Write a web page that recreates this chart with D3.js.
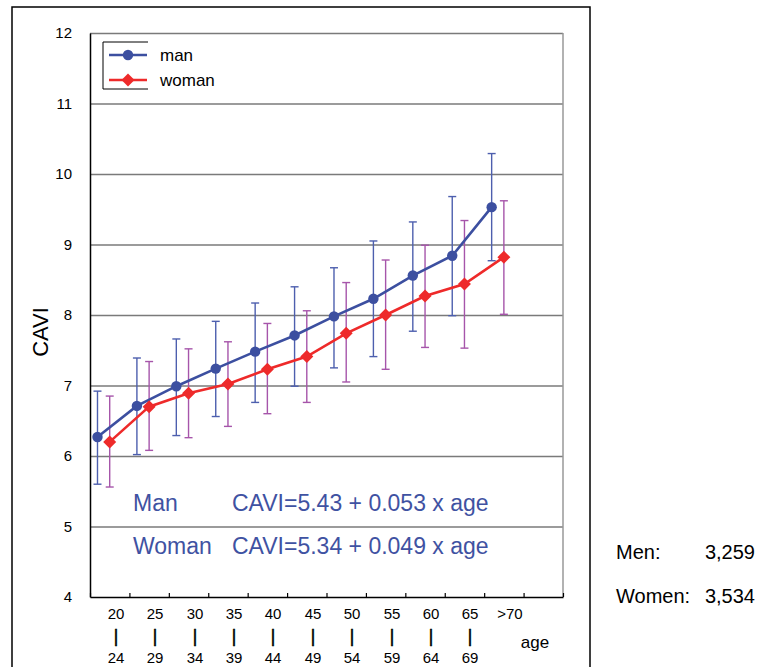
<!DOCTYPE html>
<html>
<head>
<meta charset="utf-8">
<script src="https://cdn.jsdelivr.net/npm/d3@7"></script>
<style>
  body { margin: 0; background: #fff; }
  svg { display: block; font-family: "Liberation Sans", Arial, sans-serif; }
</style>
</head>
<body>
<svg id="chart" width="758" height="667"></svg>
<script>
const ageFrom = ["20", "25", "30", "35", "40", "45", "50", "55", "60", "65", ">70"];
const ageTo = ["24", "29", "34", "39", "44", "49", "54", "59", "64", "69", ""];
const yTicks = [4, 5, 6, 7, 8, 9, 10, 11, 12];

const manMean = [6.27, 6.71, 6.99, 7.24, 7.48, 7.71, 7.98, 8.23, 8.56, 8.84, 9.53];
const manLow = [5.60, 6.02, 6.29, 6.56, 6.76, 6.99, 7.25, 7.41, 7.77, 7.99, 8.77];
const manHigh = [6.92, 7.39, 7.66, 7.91, 8.17, 8.40, 8.67, 9.05, 9.32, 9.68, 10.29];

const womanMean = [6.20, 6.70, 6.89, 7.02, 7.23, 7.41, 7.74, 8.00, 8.27, 8.44, 8.82];
const womanLow = [5.56, 6.08, 6.26, 6.42, 6.60, 6.76, 7.05, 7.23, 7.54, 7.53, 8.01];
const womanHigh = [6.85, 7.34, 7.52, 7.62, 7.88, 8.06, 8.46, 8.78, 8.99, 9.34, 9.62];

const equations = [
  { who: "Man", text: "CAVI=5.43 + 0.053 x age" },
  { who: "Woman", text: "CAVI=5.34 + 0.049 x age" }
];
const counts = [
  { label: "Men:", value: "3,259" },
  { label: "Women:", value: "3,534" }
];

const plot = { left: 90, right: 563, top: 33, bottom: 597 };
const manColor = "#3c4fa0";
const manBarColor = "#4d5fae";
const womanColor = "#ee2a2a";
const womanBarColor = "#a655aa";
const gridColor = "#7a7a7a";

const svg = d3.select("#chart");

// outer frame
svg.append("rect")
  .attr("x", 12).attr("y", 7)
  .attr("width", 578).attr("height", 700)
  .attr("fill", "none").attr("stroke", "#000").attr("stroke-width", 1.5);

const x = d3.scaleLinear().domain([0, 12]).range([plot.left, plot.right]);
const y = d3.scaleLinear().domain([4, 12]).range([plot.bottom, plot.top]);

// gridlines
svg.append("g")
  .attr("transform", `translate(${plot.left},0)`)
  .call(d3.axisLeft(y).tickValues(yTicks.slice(1)).tickSize(-(plot.right - plot.left)).tickFormat(""))
  .call(g => g.select(".domain").remove())
  .call(g => g.selectAll(".tick line").attr("stroke", gridColor).attr("stroke-width", 1.5));

// right border
svg.append("line")
  .attr("x1", plot.right).attr("x2", plot.right)
  .attr("y1", plot.top).attr("y2", plot.bottom)
  .attr("stroke", "#999").attr("stroke-width", 1.5);

// y axis labels
svg.append("g")
  .attr("transform", `translate(${plot.left},0)`)
  .call(d3.axisLeft(y).tickValues(yTicks).tickSize(0).tickPadding(18))
  .call(g => g.select(".domain").attr("stroke", "#000").attr("stroke-width", 1.5))
  .call(g => g.selectAll("text")
    .attr("font-size", 15).attr("fill", "#000")
    .attr("font-family", "Liberation Sans, Arial, sans-serif"));

// x axis
svg.append("g")
  .attr("transform", `translate(0,${plot.bottom})`)
  .call(d3.axisBottom(x).tickValues(d3.range(0, 13)).tickSizeInner(-4).tickSizeOuter(0).tickFormat(""))
  .call(g => g.select(".domain").attr("stroke", "#000").attr("stroke-width", 1.5))
  .call(g => g.selectAll(".tick line").attr("stroke", "#000").attr("stroke-width", 1.2));

const xl = svg.append("g").attr("fill", "#000").attr("text-anchor", "middle");
ageFrom.forEach((a, i) => {
  const cx = Math.round(x(i + 0.5) + 6);
  xl.append("text").attr("x", cx).attr("y", 619).attr("font-size", 15).text(a);
  if (ageTo[i]) {
    xl.append("text").attr("x", cx).attr("y", 642).attr("font-size", 19)
      .attr("stroke", "#000").attr("stroke-width", 0.4).text("|");
    xl.append("text").attr("x", cx).attr("y", 663).attr("font-size", 15).text(ageTo[i]);
  }
});
svg.append("text")
  .attr("x", 535).attr("y", 648)
  .attr("text-anchor", "middle").attr("font-size", 17)
  .text("age");

// y title
svg.append("text")
  .attr("transform", "translate(48,332) rotate(-90)")
  .attr("text-anchor", "middle").attr("font-size", 22)
  .text("CAVI");

const series = [
  { mean: manMean, low: manLow, high: manHigh, off: 0.19, line: manColor, bar: manBarColor, shape: "circle" },
  { mean: womanMean, low: womanLow, high: womanHigh, off: 0.5, line: womanColor, bar: womanBarColor, shape: "diamond" }
];

const marker = (g, shape, color, cx, cy) => {
  if (shape === "circle") {
    g.append("circle").attr("cx", cx).attr("cy", cy).attr("r", 5.2).attr("fill", color);
  } else {
    g.append("path")
      .attr("d", `M${cx},${cy - 6.5}L${cx + 6.5},${cy}L${cx},${cy + 6.5}L${cx - 6.5},${cy}Z`)
      .attr("fill", color);
  }
};

// error bars
series.forEach(s => {
  const g = svg.append("g").attr("stroke", s.bar).attr("stroke-width", 1.4).attr("fill", "none");
  s.mean.forEach((m, i) => {
    const cx = x(i + s.off);
    g.append("line").attr("x1", cx).attr("x2", cx).attr("y1", y(s.low[i])).attr("y2", y(s.high[i]));
    g.append("line").attr("x1", cx - 4).attr("x2", cx + 4).attr("y1", y(s.low[i])).attr("y2", y(s.low[i]));
    g.append("line").attr("x1", cx - 4).attr("x2", cx + 4).attr("y1", y(s.high[i])).attr("y2", y(s.high[i]));
  });
});

// lines and markers
series.forEach(s => {
  const line = d3.line().x((d, i) => x(i + s.off)).y(d => y(d));
  svg.append("path")
    .attr("d", line(s.mean))
    .attr("fill", "none").attr("stroke", s.line).attr("stroke-width", 2.6);
  const g = svg.append("g");
  s.mean.forEach((m, i) => marker(g, s.shape, s.line, x(i + s.off), y(m)));
});

// legend
const lg = svg.append("g");
lg.append("path")
  .attr("d", "M148,42H103V89H148")
  .attr("fill", "none").attr("stroke", "#000").attr("stroke-width", 1);
[["man", manColor, "circle", 55], ["woman", womanColor, "diamond", 80]].forEach(([name, color, shape, ly]) => {
  lg.append("line").attr("x1", 109).attr("x2", 147).attr("y1", ly).attr("y2", ly)
    .attr("stroke", color).attr("stroke-width", 2.6);
  marker(lg, shape, color, 128, ly);
  lg.append("text").attr("x", 160).attr("y", ly + 6).attr("font-size", 17).text(name);
});

// equations
equations.forEach((e, i) => {
  const ey = 511 + i * 43;
  svg.append("text").attr("x", 133).attr("y", ey).attr("font-size", 23).attr("fill", "#3f52a2").text(e.who);
  svg.append("text").attr("x", 232).attr("y", ey).attr("font-size", 23).attr("fill", "#3f52a2").text(e.text);
});

// counts
counts.forEach((c, i) => {
  const cy = 559 + i * 44;
  svg.append("text").attr("x", 616).attr("y", cy).attr("font-size", 20).text(c.label);
  svg.append("text").attr("x", 755).attr("y", cy).attr("font-size", 20).attr("text-anchor", "end").text(c.value);
});
</script>
</body>
</html>
